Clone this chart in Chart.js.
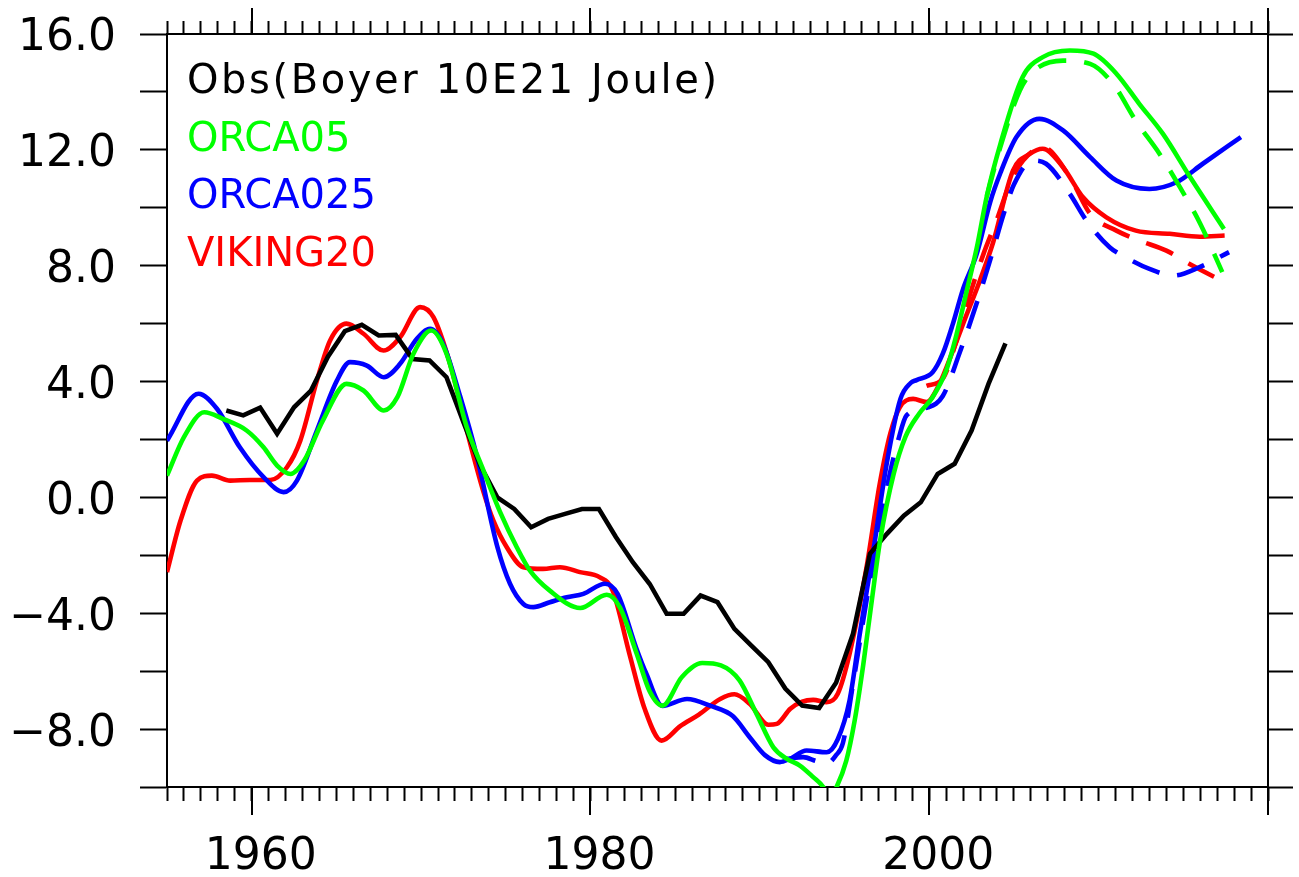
<!DOCTYPE html>
<html>
<head>
<meta charset="utf-8">
<script src="https://cdn.jsdelivr.net/npm/chart.js@4.4.1/dist/chart.umd.min.js"></script>
<style>
html,body{margin:0;padding:0;background:#ffffff;}
#c{display:block;}
</style>
</head>
<body>
<canvas id="c" width="1299" height="877"></canvas>
<script>
// ---------------- data ----------------
const obsYears = [1958.5,1959.5,1960.5,1961.5,1962.5,1963.5,1964.5,1965.5,1966.5,1967.5,1968.5,1969.5,1970.5,1971.5,1972.5,1973.5,1974.5,1975.5,1976.5,1977.5,1978.5,1979.5,1980.5,1981.5,1982.5,1983.5,1984.5,1985.5,1986.5,1987.5,1988.5,1989.5,1990.5,1991.5,1992.5,1993.5,1994.5,1995.5,1996.5,1997.5,1998.5,1999.5,2000.5,2001.5,2002.5,2003.5,2004.5];
const obsValues = [3.0,2.83,3.1,2.2,3.11,3.69,4.86,5.74,5.96,5.59,5.61,4.78,4.73,4.15,2.6,1.1,0.0,-0.4,-1.03,-0.74,-0.57,-0.4,-0.4,-1.37,-2.24,-2.99,-4.02,-4.02,-3.39,-3.62,-4.54,-5.12,-5.69,-6.6,-7.19,-7.27,-6.4,-4.71,-1.95,-1.26,-0.63,-0.17,0.81,1.16,2.31,3.92,5.32];

const orca05Years = [1955.0,1956.0,1957.2,1958.3,1959.7,1960.7,1961.5,1962.3,1963.1,1964.2,1965.6,1966.6,1967.8,1968.6,1969.55,1970.6,1971.5,1972.7,1973.7,1974.66,1975.65,1976.43,1977.6,1979.4,1980.96,1981.74,1982.73,1983.5,1984.25,1985.4,1986.6,1987.7,1988.8,1989.8,1990.8,1991.6,1992.36,1993.15,1993.74,1994.1,1994.53,1995.1,1995.6,1996.1,1996.6,1997.1,1997.9,1998.6,1999.4,2000.2,2001.0,2001.6,2002.2,2002.8,2003.4,2004.2,2005.5,2006.7,2008.3,2009.7,2011.05,2012.4,2013.8,2015.4,2017.4];
const orca05Values = [0.75,2.08,2.94,2.71,2.31,1.73,1.1,0.81,1.27,2.65,3.92,3.69,3.0,3.46,4.96,5.76,4.96,2.42,0.9,-0.5,-1.72,-2.53,-3.22,-3.82,-3.36,-3.8,-5.4,-6.7,-7.19,-6.2,-5.72,-5.8,-6.32,-7.47,-8.63,-9.03,-9.26,-9.66,-10.0,-10.4,-10.0,-9.1,-7.7,-5.8,-3.6,-1.49,0.81,2.1,2.89,3.46,4.38,5.6,7.1,8.6,10.4,12.2,14.5,15.2,15.43,15.32,14.63,13.59,12.55,11.06,9.27];

const orca05DashYears = [2003.4,2004.2,2005.35,2006.2,2007.9,2009.5,2010.85,2012.2,2013.6,2014.8,2016.0,2017.3];
const orca05DashValues = [10.4,12.1,14.05,14.74,15.08,14.97,14.28,13.0,11.86,10.71,9.45,7.78];

const orca025Years = [1955.0,1956.86,1957.95,1959.3,1960.7,1961.88,1962.67,1963.85,1965.03,1965.8,1966.8,1967.8,1968.76,1969.75,1970.53,1971.3,1972.3,1973.3,1974.5,1975.25,1976.04,1976.63,1977.6,1978.6,1979.58,1980.86,1981.6,1982.7,1983.3,1984.25,1985.7,1987.1,1988.4,1989.4,1990.3,1991.18,1991.77,1992.76,1993.94,1994.6,1995.3,1995.9,1996.7,1997.5,1998.3,1998.9,1999.25,2000.2,2000.8,2001.4,2002.0,2002.8,2003.6,2004.2,2005.15,2006.5,2007.9,2009.5,2011.05,2013.0,2014.6,2016.15,2018.4];
const orca025Values = [1.96,3.58,3.06,1.73,0.70,0.18,0.58,2.31,4.03,4.67,4.55,4.15,4.61,5.48,5.82,5.3,3.5,1.4,-1.7,-2.98,-3.68,-3.79,-3.62,-3.45,-3.33,-2.98,-3.33,-5.2,-6.09,-7.2,-6.96,-7.2,-7.55,-8.28,-8.9,-9.14,-9.03,-8.74,-8.8,-8.35,-7.0,-4.71,-1.84,1.2,3.4,3.95,4.05,4.32,4.96,6.0,7.2,8.4,10.2,11.2,12.44,13.07,12.67,11.75,10.94,10.65,10.88,11.52,12.44];

const orca025DashYears = [1991.6,1992.56,1993.3,1993.94,1994.5,1994.9,1995.5,1996.3,1997.08,1997.67,1998.16,1998.66,1999.93,2000.8,2001.8,2002.8,2003.6,2004.4,2005.0,2006.1,2006.9,2008.3,2009.28,2010.65,2011.6,2013.0,2014.4,2015.96,2017.7];
const orca025DashValues = [-9.03,-8.97,-9.1,-9.2,-8.9,-8.49,-6.44,-3.56,-1.03,0.81,1.96,2.83,3.11,3.5,5.0,6.7,8.2,9.8,10.8,11.63,11.52,10.48,9.56,8.64,8.29,7.89,7.66,7.95,8.47];

const viking20Years = [1955.0,1955.8,1956.77,1957.65,1958.73,1959.9,1961.1,1962.08,1962.87,1963.85,1964.63,1965.6,1966.6,1967.78,1968.76,1969.94,1970.73,1971.71,1972.7,1973.68,1974.27,1975.06,1976.04,1977.2,1978.2,1979.38,1980.56,1981.3,1982.3,1983.2,1984.2,1985.3,1986.4,1987.66,1988.5,1989.4,1990.5,1991.0,1991.8,1992.5,1993.15,1993.94,1994.6,1995.3,1996.3,1997.08,1997.7,1998.26,1999.05,1999.84,2000.6,2001.4,2002.2,2003.0,2003.77,2004.95,2005.93,2006.7,2007.9,2009.08,2010.46,2012.2,2014.2,2015.96,2017.44];
const viking20Values = [-2.58,-0.8,0.58,0.75,0.58,0.6,0.6,1.04,1.96,4.03,5.42,6.0,5.65,5.07,5.53,6.57,6.22,4.61,2.31,0.2,-0.8,-1.72,-2.41,-2.47,-2.41,-2.58,-2.76,-3.2,-5.4,-7.3,-8.4,-7.9,-7.5,-6.96,-6.8,-7.13,-7.85,-7.82,-7.3,-7.05,-6.99,-7.07,-6.78,-5.4,-2.41,0.47,2.2,3.11,3.4,3.29,3.92,5.07,6.3,7.5,8.8,11.29,11.86,12.04,11.4,10.36,9.67,9.21,9.1,9.0,9.04];

const viking20DashYears = [1999.84,2000.8,2001.6,2002.4,2003.2,2004.0,2004.8,2005.54,2006.7,2008.3,2009.5,2011.05,2012.4,2014.0,2015.37,2017.44];
const viking20DashValues = [3.85,4.1,5.4,7.0,8.4,9.6,10.9,11.63,12.09,11.06,9.79,9.21,8.87,8.52,8.06,7.43];

const xTickLabels = ['1960','1980','2000'];
const majorYears = [1960,1980,2000,2020];
const yTickValues = [-8,-4,0,4,8,12,16];
const yTickLabels = ['\u22128.0','\u22124.0','0.0','4.0','8.0','12.0','16.0'];

const legendLabels = ['Obs(Boyer 10E21 Joule)','ORCA05','ORCA025','VIKING20'];
const legendColors = ['#000000','#00ff00','#0000ff','#ff0000'];

// ---------------- helpers ----------------
function pts(xs, ys){ return xs.map((x,i)=>({x:x, y:ys[i]})); }
const FONT = 'DejaVu Sans';

const smooth = {pointRadius:0, pointHoverRadius:0, pointHitRadius:0, borderWidth:4.6, fill:false, cubicInterpolationMode:'monotone', clip:0};

const datasets = [
  Object.assign({label:'ORCA05', data:pts(orca05Years, orca05Values), borderColor:'#00ff00'}, smooth),
  Object.assign({label:'ORCA05 dashed', data:pts(orca05DashYears, orca05DashValues), borderColor:'#00ff00', borderDash:[29,18]}, smooth),
  {label:'Obs', data:pts(obsYears, obsValues), borderColor:'#000000', borderWidth:4.6, pointRadius:0, pointHitRadius:0, tension:0, fill:false, clip:0},
  Object.assign({label:'ORCA025', data:pts(orca025Years, orca025Values), borderColor:'#0000ff'}, smooth),
  Object.assign({label:'ORCA025 dashed', data:pts(orca025DashYears, orca025DashValues), borderColor:'#0000ff', borderDash:[29,18]}, smooth),
  Object.assign({label:'VIKING20', data:pts(viking20Years, viking20Values), borderColor:'#ff0000'}, smooth),
  Object.assign({label:'VIKING20 dashed', data:pts(viking20DashYears, viking20DashValues), borderColor:'#ff0000', borderDash:[29,18]}, smooth)
];

const extrasPlugin = {
  id:'extras',
  afterDraw(chart){
    const {ctx, chartArea, scales} = chart;
    ctx.save();
    // longer major ticks on bottom and top axes
    ctx.strokeStyle = '#000';
    ctx.lineWidth = 2;
    majorYears.forEach(v => {
      const px = Math.round(scales.x.getPixelForValue(v));
      ctx.beginPath();
      ctx.moveTo(px, chartArea.bottom); ctx.lineTo(px, chartArea.bottom + 28);
      ctx.moveTo(px, chartArea.top); ctx.lineTo(px, chartArea.top - 26);
      ctx.stroke();
    });
    // legend text
    ctx.font = '40px "' + FONT + '"';
    ctx.textAlign = 'left';
    ctx.textBaseline = 'alphabetic';
    legendLabels.forEach((t, i) => {
      ctx.fillStyle = legendColors[i];
      ctx.letterSpacing = (i === 0) ? '2.6px' : '0px';
      ctx.fillText(t, chartArea.left + 20, chartArea.top + 59 + i * 57.7);
    });
    ctx.restore();
  }
};

const axisBorder = {display:true, color:'#000', width:2};
function noPad(s){ s.paddingTop = 0; s.paddingBottom = 0; s.paddingLeft = 0; s.paddingRight = 0; }

new Chart(document.getElementById('c'), {
  type:'line',
  data:{datasets:datasets},
  options:{
    responsive:false,
    animation:false,
    devicePixelRatio:1,
    layout:{padding:0},
    plugins:{legend:{display:false}, tooltip:{enabled:false}},
    events:[],
    scales:{
      x:{
        type:'linear', position:'bottom', min:1955, max:2020,
        afterFit:(s)=>{ s.height = 90; noPad(s); },
        border:axisBorder,
        grid:{drawOnChartArea:false, drawTicks:true, tickLength:14, tickColor:'#000', tickWidth:2},
        ticks:{stepSize:1, autoSkip:false, maxRotation:0, minRotation:0, padding:30, labelOffset:9, color:'#000',
          font:{family:FONT, size:44},
          callback:(v)=> xTickLabels.includes(String(v)) ? String(v) : ''}
      },
      xTop:{
        type:'linear', position:'top', min:1955, max:2020,
        afterFit:(s)=>{ s.height = 34; noPad(s); },
        border:axisBorder,
        grid:{drawOnChartArea:false, drawTicks:true, tickLength:13, tickColor:'#000', tickWidth:2},
        ticks:{display:false, stepSize:1}
      },
      y:{
        type:'linear', position:'left', min:-10, max:16,
        afterFit:(s)=>{ s.width = 167; noPad(s); },
        border:axisBorder,
        grid:{drawOnChartArea:false, drawTicks:true, tickLength:27, tickColor:'#000', tickWidth:2},
        ticks:{stepSize:2, autoSkip:false, padding:24, labelOffset:5, color:'#000',
          font:{family:FONT, size:44},
          callback:(v)=>{ const i = yTickValues.indexOf(v); return i >= 0 ? yTickLabels[i] : ''; }}
      },
      yRight:{
        type:'linear', position:'right', min:-10, max:16,
        afterFit:(s)=>{ s.width = 31; noPad(s); },
        border:axisBorder,
        grid:{drawOnChartArea:false, drawTicks:true, tickLength:25, tickColor:'#000', tickWidth:2},
        ticks:{display:false, stepSize:2}
      }
    }
  },
  plugins:[extrasPlugin]
});
</script>
</body>
</html>
